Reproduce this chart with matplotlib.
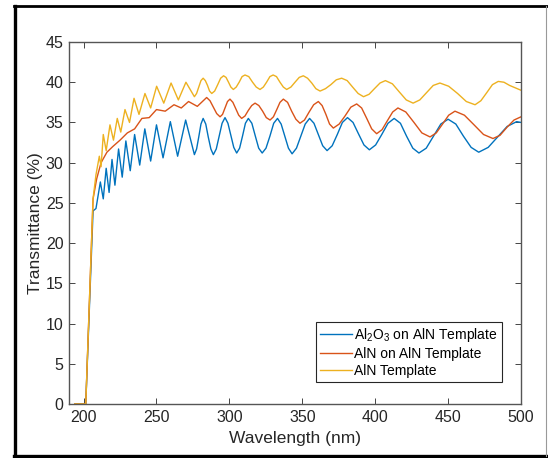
import matplotlib
matplotlib.use("Agg")
import matplotlib.pyplot as plt
from matplotlib.lines import Line2D

plt.rcParams['font.family'] = ['Liberation Sans', 'DejaVu Sans']
plt.rcParams['mathtext.fontset'] = 'custom'
plt.rcParams['mathtext.rm'] = 'Liberation Sans'
plt.rcParams['mathtext.it'] = 'Liberation Sans'

# ---- values (wavelength nm, transmittance %) ----
# Al2O3 on AlN template (blue)
blue_wl = [194, 201.5, 206.5, 208.5, 211.5, 213.5, 215.5, 217.5, 219.5, 221.5, 224, 226.5,
           229, 232, 235, 238.5, 242, 246, 250, 254.5, 259.5, 264.5, 270, 276,
           277.5, 279, 280.5, 282, 283.8, 285.5, 287.3, 289, 291, 293, 295, 297,
           299, 301, 303, 305, 307, 309, 311, 313, 315.4, 317.8, 320.1, 322.5,
           325.1, 327.8, 330.4, 333, 335.5, 338, 340.5, 343, 346, 349, 352, 355,
           358, 361, 364, 367, 370.5, 374, 377.5, 381, 384.8, 388.5, 392.3, 396,
           400.3, 404.5, 408.8, 413, 417.3, 421.5, 425.8, 430, 435, 440, 445, 450,
           455.3, 460.5, 465.8, 471, 477.5, 484, 490.5, 497, 500]
blue_t = [0, 0, 24.0, 24.3, 27.6, 25.5, 29.3, 26.3, 30.4, 27.2, 31.7, 28.2,
          32.7, 29.0, 33.5, 29.7, 34.2, 30.2, 34.7, 30.6, 35.1, 30.8, 35.3, 31.0,
          31.7, 33.2, 34.8, 35.5, 34.8, 33.2, 31.7, 31.0, 31.7, 33.3, 34.9, 35.6,
          34.9, 33.4, 31.9, 31.2, 31.8, 33.3, 34.9, 35.5, 34.9, 33.3, 31.8, 31.2,
          31.8, 33.3, 34.9, 35.5, 34.8, 33.3, 31.8, 31.1, 31.8, 33.3, 34.8, 35.5,
          34.9, 33.5, 32.1, 31.5, 32.1, 33.5, 35.0, 35.6, 35.0, 33.6, 32.2, 31.6,
          32.2, 33.5, 34.9, 35.5, 34.9, 33.3, 31.8, 31.2, 31.8, 33.3, 34.8, 35.4,
          34.8, 33.3, 31.9, 31.3, 31.9, 33.2, 34.5, 35.1, 35.0]

# AlN on AlN template (red)
red_wl = [194, 201.5, 206.5, 209, 212, 216, 220, 225, 230, 235, 240, 245, 250, 256,
          262, 267, 272, 278, 284.4, 286.7, 289, 291.3, 293.6, 295.3, 297, 298.7,
          300.4, 302.4, 304.4, 306.4, 308.4, 310.7, 313, 315.3, 317.6, 320.2, 322.8,
          325.3, 327.9, 330.2, 332.5, 334.7, 337, 339.9, 342.7, 345.6, 348.4, 351.5,
          354.7, 357.8, 361, 363.6, 366.2, 368.7, 371.3, 375.3, 379.3, 383.3, 387.3,
          390.7, 394.2, 397.6, 401, 404.7, 408.3, 412, 415.6, 421, 426.6, 432, 437.6,
          441.9, 446.2, 450.4, 454.7, 461.2, 467.8, 474.3, 480.8, 485.6, 490.4, 495.2, 500]
red_t = [0, 0, 25.5, 28.0, 30.0, 31.3, 32.0, 32.8, 33.7, 34.2, 35.5, 35.6, 36.6, 36.4,
         37.2, 36.8, 37.6, 37.0, 38.1, 37.7, 36.9, 36.1, 35.7, 36.0, 36.8, 37.6,
         37.9, 37.5, 36.7, 35.9, 35.5, 35.8, 36.5, 37.1, 37.4, 37.1, 36.4,
         35.6, 35.3, 35.7, 36.6, 37.5, 37.9, 37.5, 36.4, 35.4, 34.9, 35.3,
         36.3, 37.2, 37.6, 37.1, 36.0, 34.8, 34.3, 34.8, 35.8, 36.9, 37.3,
         36.8, 35.5, 34.2, 33.6, 34.1, 35.2, 36.3, 36.8, 36.3, 35.0, 33.7, 33.2,
         33.7, 34.8, 35.9, 36.4, 35.9, 34.7, 33.5, 33.0, 33.4, 34.4, 35.3, 35.7]

# AlN template (yellow)
yel_wl = [194, 201.5, 206.5, 208.5, 210.8, 212, 213.5, 215.5, 218.1, 220.5, 223.1, 225.5,
          228.4, 231.5, 234.6, 238, 242.1, 246, 250.1, 255, 260, 265, 270.2, 276,
          277.5, 279, 280.5, 282, 283.5, 285, 286.4, 287.9, 289.9, 292, 294, 296,
          297.7, 299.4, 301, 302.7, 304.7, 306.7, 308.7, 310.7, 313.3, 315.9, 318.4,
          321, 323.3, 325.5, 327.8, 330, 332.3, 334.7, 337, 339.3, 342.2, 345, 347.9,
          350.7, 353.6, 356.5, 359.3, 362.2, 365.9, 369.6, 373.3, 377, 380.8, 384.5,
          388.3, 392, 395.8, 399.5, 403.3, 407, 411.8, 416.5, 421.3, 426, 430.6,
          435.2, 439.8, 444.4, 450.4, 456.5, 462.5, 468.5, 472.5, 476.5, 480.4,
          484.4, 488.3, 492.2, 496.1, 500]
yel_t = [0, 0, 25.5, 28.5, 30.8, 29.5, 33.5, 31.5, 34.7, 32.8, 35.5, 33.8,
         36.6, 35.0, 38.0, 36.0, 38.6, 36.8, 39.5, 37.4, 39.9, 37.8, 40.0, 38.2,
         38.6, 39.4, 40.2, 40.5, 40.2, 39.6, 38.9, 38.6, 38.9, 39.7, 40.5, 40.8,
         40.6, 40.0, 39.4, 39.1, 39.4, 40.0, 40.7, 40.9, 40.7, 40.0, 39.4,
         39.1, 39.4, 40.0, 40.7, 40.9, 40.7, 40.0, 39.4, 39.1, 39.4, 40.0, 40.6,
         40.8, 40.5, 39.9, 39.2, 38.9, 39.2, 39.7, 40.3, 40.5, 40.2, 39.4,
         38.6, 38.2, 38.5, 39.2, 39.9, 40.2, 39.8, 38.8, 37.8, 37.4, 37.8,
         38.7, 39.6, 39.9, 39.5, 38.6, 37.6, 37.2, 37.7, 38.7, 39.7,
         40.1, 40.0, 39.6, 39.3, 39.0]

labels = ["Al$_2$O$_3$ on AlN Template", "AlN on AlN Template", "AlN Template"]
colors = ["#0072BD", "#D95319", "#EDB120"]

fig = plt.figure(figsize=(5.48, 4.58), dpi=100)
ax = fig.add_axes([69 / 548, 54 / 458, 452 / 548, 362 / 458])

for wl, t, c, lab in zip([blue_wl, red_wl, yel_wl], [blue_t, red_t, yel_t], colors, labels):
    ax.plot(wl, t, color=c, lw=1.0, label=lab)

ax.set_xlim(190, 500)
ax.set_ylim(0, 45)
ax.set_xticks(range(200, 501, 50))
ax.set_yticks(range(0, 46, 5))
ax.tick_params(direction="in", top=True, right=True, length=4, width=0.6,
               labelsize=11.5, colors="#262626", pad=4)
for s in ax.spines.values():
    s.set_color("#555555")
    s.set_linewidth(1.0)
ax.set_xlabel("Wavelength (nm)", fontsize=12.5, color="#262626", labelpad=5)
ax.set_ylabel("Transmittance (%)", fontsize=12.5, color="#262626", labelpad=2)

leg = ax.legend(loc="lower right", bbox_to_anchor=(0.958, 0.061), fontsize=10,
                handlelength=2.3, handletextpad=0.15, labelspacing=0.2,
                borderpad=0.3, borderaxespad=0, fancybox=False, framealpha=1)
leg.get_frame().set_edgecolor("#262626")
leg.get_frame().set_linewidth(0.8)

# black frame around the picture
fig.add_artist(Line2D([15 / 548, 15 / 548], [2 / 458, 452 / 458], color="black", lw=2.4))
fig.add_artist(Line2D([14 / 548, 548 / 548], [452 / 458, 452 / 458], color="black", lw=2.0))
fig.add_artist(Line2D([14 / 548, 548 / 548], [2 / 458, 2 / 458], color="black", lw=2.4))
fig.add_artist(Line2D([546 / 548, 546 / 548], [2 / 458, 452 / 458], color="#999999", lw=0.8))

fig.savefig("out.png", dpi=100)
